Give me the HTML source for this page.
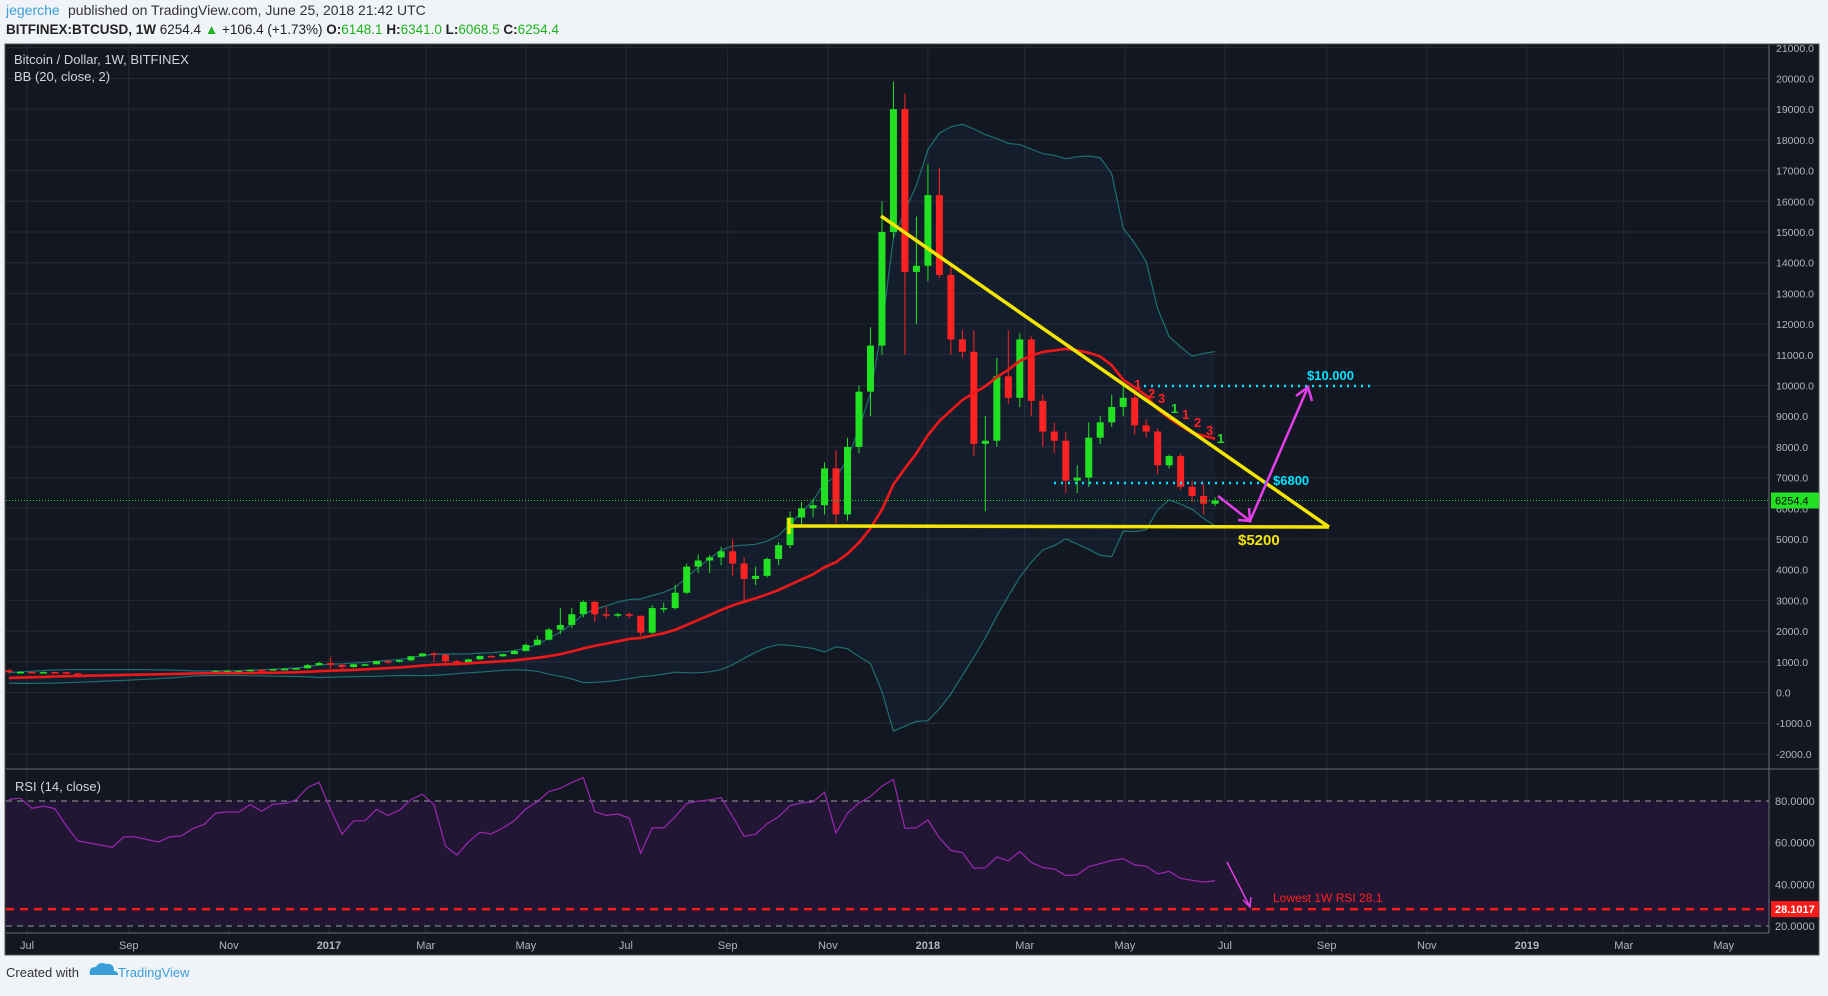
<!DOCTYPE html>
<html><head><meta charset="utf-8">
<style>
html,body{margin:0;padding:0;background:#f0f3f7;width:1828px;height:991px;overflow:hidden;font-family:"Liberation Sans",sans-serif}
#wrap{position:absolute;left:0;top:0;width:1828px;height:991px}
</style></head>
<body>
<div id="wrap">
<svg id="svg" width="1828" height="991" viewBox="0 0 1828 991" xmlns="http://www.w3.org/2000/svg">
  <text x="6" y="15" font-size="14" fill="#3a9fd8">jegerche</text>
  <text x="68" y="15" font-size="14" fill="#333">published on TradingView.com, June 25, 2018 21:42 UTC</text>
  <g font-size="13.5" font-weight="bold">
    <text x="6" y="34" fill="#222">BITFINEX:BTCUSD, 1W <tspan font-weight="normal">6254.4</tspan> <tspan fill="#1fb51f">▲</tspan><tspan font-weight="normal"> +106.4 (+1.73%)</tspan> O:<tspan fill="#1fb51f" font-weight="normal">6148.1</tspan> H:<tspan fill="#1fb51f" font-weight="normal">6341.0</tspan> L:<tspan fill="#1fb51f" font-weight="normal">6068.5</tspan> C:<tspan fill="#1fb51f" font-weight="normal">6254.4</tspan></text>
  </g>
  <rect x="5" y="44" width="1814" height="911" fill="#131722" stroke="#555"/>
  <g id="grid"></g>
  <g id="bb"></g>
  <g id="candles"></g>
  <g id="rsi"></g>
  <g id="axes"></g>
  <text x="14" y="64" font-size="13" fill="#d1d4dc">Bitcoin / Dollar, 1W, BITFINEX</text>
  <text x="14" y="81" font-size="13" fill="#d1d4dc">BB (20, close, 2)</text>
  <text x="15" y="791" font-size="13" fill="#d1d4dc">RSI (14, close)</text>
  <text x="6" y="977" font-size="13" fill="#333">Created with</text>
  <path d="M90 975 q-2 -8 6 -8 q3 -6 10 -3 q8 -1 8 7 q4 0 4 4 z" fill="#3a9fd8"/>
  <text x="118" y="977" font-size="13" fill="#3a9fd8">TradingView</text>
</svg>
</div>
<script>
const priorCloses=[400,410,415,418,420,425,430,440,445,450,455,460,450,455,530,575,720];
const closes=[660,670,650,665,660,625,590,585,580,575,610,610,605,600,615,618,640,655,700,705,705,740,730,765,770,790,890,960,900,830,920,920,1020,1000,1050,1180,1270,1230,1020,960,1080,1190,1180,1250,1350,1550,1720,2050,2200,2550,2950,2550,2500,2550,2500,1950,2750,2750,3250,4100,4300,4400,4600,4200,3700,3800,4350,4800,5700,6000,6100,7300,5800,8000,9800,11300,15000,19000,13700,13900,16200,13600,11500,11100,8100,8200,10300,9600,11500,9500,8500,8200,6900,7000,8300,8800,9300,9600,8700,8500,7400,7700,6700,6400,6148,6254];
const highs=[760,700,690,680,670,660,630,600,595,590,615,625,615,610,620,625,645,660,720,740,720,750,750,770,780,800,935,1000,1130,920,930,930,1030,1050,1060,1190,1290,1330,1250,1060,1100,1210,1210,1260,1400,1600,1850,2100,2750,2760,3000,2980,2800,2600,2600,2500,2850,2920,3500,4200,4500,4480,4750,4980,4400,4100,4400,4900,5900,6200,6300,7500,7900,8300,10000,11900,16000,19900,19500,15500,17200,17100,14000,11800,11800,9000,10900,11800,11700,11600,9700,8800,8500,7400,8800,9000,9700,10000,9900,8900,8600,7750,7780,6900,6800,6350];
const lows=[620,640,640,645,650,620,480,580,570,560,570,600,600,590,595,605,615,630,645,690,690,695,720,720,750,760,780,890,780,750,810,880,910,940,980,1030,1150,1000,930,890,950,1060,1150,1160,1250,1340,1530,1700,1900,2100,2450,2300,2400,2450,2400,1850,1900,2600,2700,3200,3900,3900,4150,3800,2950,3500,3750,4150,4700,5400,5700,5800,5500,5600,7800,9000,11000,14800,11000,12000,13400,13500,11000,10900,7700,5900,8000,9400,9300,9000,8000,7800,6500,6500,6700,8100,8650,9000,8400,8300,7100,7300,6600,6200,5800,6070];
const priceTicks=[21000,20000,19000,18000,17000,16000,15000,14000,13000,12000,11000,10000,9000,8000,7000,6000,5000,4000,3000,2000,1000,0,-1000,-2000];
const rsiTicks=[80,60,40,20];
const timeTicks=[["Jul",2016,6],["Sep",2016,8],["Nov",2016,10],["2017",2017,0],["Mar",2017,2],["May",2017,4],["Jul",2017,6],["Sep",2017,8],["Nov",2017,10],["2018",2018,0],["Mar",2018,2],["May",2018,4],["Jul",2018,6],["Sep",2018,8],["Nov",2018,10],["2019",2019,0],["Mar",2019,2],["May",2019,4]];
const lastPrice=6254.4, lowestRsi=28.1017;

const NS="http://www.w3.org/2000/svg";
const PL=6,PR=1769,PT=45,PB=769,RT=769,RB=933;
const D0=Date.UTC(2016,6,1), DAY=86400000;
function xDate(t){return 27+(t-D0)/DAY*1.641;}
function xI(i){return xDate(Date.UTC(2016,5,20)+i*7*DAY);}
function yP(p){return 692.5-p*0.0307;}
function yR(r){return 801-(r-80)*2.0833;}
function mk(tag,attrs,parent){const e=document.createElementNS(NS,tag);for(const k in attrs)e.setAttribute(k,attrs[k]);parent.appendChild(e);return e;}
const G=id=>document.getElementById(id);
const all=priorCloses.concat(closes);const off=priorCloses.length;

// grid
const grid=G('grid');
priceTicks.forEach(p=>{const l=mk('line',{x1:PL,x2:PR,y1:yP(p),y2:yP(p),stroke:'#262a35','stroke-width':1},grid);

});
rsiTicks.slice(1,3).forEach(r=>{const l=mk('line',{x1:PL,x2:PR,y1:yR(r),y2:yR(r),stroke:'#262a35'},grid);

});
timeTicks.forEach(t=>{const x=xDate(Date.UTC(t[1],t[2],1));const l=mk('line',{x1:x,x2:x,y1:PT,y2:RB,stroke:'#262a35'},grid);

});

// bollinger
const bb=G('bb');const up=[],lo=[],mid=[];
closes.forEach((c,i)=>{const j=i+off;const w=all.slice(Math.max(0,j-19),j+1);const m=w.reduce((a,b)=>a+b,0)/w.length;
const sd=Math.sqrt(w.reduce((a,b)=>a+(b-m)*(b-m),0)/w.length);mid.push([xI(i),yP(m)]);up.push([xI(i),yP(m+2*sd)]);lo.push([xI(i),yP(m-2*sd)]);});
const pts=a=>a.map(p=>p[0].toFixed(1)+','+p[1].toFixed(1)).join(' ');
const fill=mk('polygon',{points:pts(up)+' '+pts(lo.slice().reverse()),fill:'rgba(33,150,243,0.05)'},bb);


const ul=mk('polyline',{points:pts(up),fill:'none',stroke:'#1e6f6f','stroke-width':1.2},bb);


const ll=mk('polyline',{points:pts(lo),fill:'none',stroke:'#1e6f6f','stroke-width':1.2},bb);



// candles
const cg=G('candles');
closes.forEach((c,i)=>{const o=all[i+off-1];const col=c>=o?'#22e022':'#ff2222';const x=xI(i);
const g=mk('g',{},cg);


mk('line',{x1:x,x2:x,y1:yP(highs[i]),y2:yP(lows[i]),stroke:col,'stroke-width':1},g);
const t=Math.min(yP(o),yP(c)),h=Math.max(1.5,Math.abs(yP(o)-yP(c)));
mk('rect',{x:x-3.5,y:t,width:7,height:h,fill:col},g);});
const ml=mk('polyline',{points:pts(mid),fill:'none',stroke:'#f01818','stroke-width':2.6},cg);



// price line
const ax=G('axes');
const pl=mk('line',{x1:PL,x2:PR,y1:yP(lastPrice),y2:yP(lastPrice),stroke:'#22e022','stroke-dasharray':'1,2'},ax);



// RSI
const rg=G('rsi');
const bg=mk('rect',{x:PL,y:yR(80),width:PR-PL,height:yR(20)-yR(80),fill:'#211735'},rg);


[80,20].forEach(r=>{const l=mk('line',{x1:PL,x2:PR,y1:yR(r),y2:yR(r),stroke:'#9598a1','stroke-dasharray':'6,5'},rg);

});
let ag=0,al=0;const rsi=[];
for(let j=1;j<all.length;j++){const d=all[j]-all[j-1];const g=Math.max(d,0),l=Math.max(-d,0);
const n=Math.min(j,14);ag=(ag*(n-1)+g)/n;al=(al*(n-1)+l)/n;
if(j>=off)rsi.push([xI(j-off),yR(al===0?100:100-100/(1+ag/al))]);}
const rl=mk('polyline',{points:pts(rsi),fill:'none',stroke:'#9c27b0','stroke-width':1.2},rg);


const rd=mk('line',{x1:PL,x2:PR,y1:yR(lowestRsi),y2:yR(lowestRsi),stroke:'#ff1a1a','stroke-width':2.5,'stroke-dasharray':'8,6'},rg);



// separators & axis
[[PR,PT,PR,RB],[PL,RT,1819,RT],[PL,RB,PR,RB]].forEach(a=>{const l=mk('line',{x1:a[0],y1:a[1],x2:a[2],y2:a[3],stroke:'#6a6d78'},ax);

});
priceTicks.forEach(p=>{const t=mk('text',{x:1776,y:yP(p)+4,'font-size':10.5,fill:'#b2b5be'},ax);t.textContent=p.toFixed(1);

});
rsiTicks.forEach(r=>{const t=mk('text',{x:1775,y:yR(r)+4,'font-size':11,fill:'#b2b5be'},ax);t.textContent=r.toFixed(4);

});
timeTicks.forEach(tk=>{const x=xDate(Date.UTC(tk[1],tk[2],1));const t=mk('text',{x:x,y:949,'font-size':11,fill:'#b2b5be','text-anchor':'middle','font-weight':/^\d/.test(tk[0])?'bold':'normal'},ax);t.textContent=tk[0];

});
const gb=mk('rect',{x:1771,y:yP(lastPrice)-8,width:48,height:16,fill:'#22e022'},ax);


const gt=mk('text',{x:1775,y:yP(lastPrice)+4,'font-size':11,fill:'#000'},ax);gt.textContent=lastPrice.toFixed(1);


const rb=mk('rect',{x:1771,y:yR(lowestRsi)-8,width:48,height:16,fill:'#ff1a1a'},ax);


const rt=mk('text',{x:1775,y:yR(lowestRsi)+4,'font-size':11,fill:'#fff','font-weight':'bold'},ax);rt.textContent=lowestRsi.toFixed(4);


</script>
<svg width="1828" height="991" style="position:absolute;left:0;top:0;pointer-events:none">
  <g stroke="#f2e600" stroke-width="3.5" fill="none">
    <line x1="881" y1="216" x2="1329" y2="527"/>
    <line x1="789" y1="526" x2="1329" y2="527"/>
    <line x1="789" y1="518" x2="789" y2="534"/>
  </g>
  <text x="1238" y="545" font-size="15" font-weight="bold" fill="#f2e600">$5200</text>
  <line x1="1137" y1="386" x2="1372" y2="386" stroke="#00e5ff" stroke-width="2.5" stroke-dasharray="2,5"/>
  <text x="1307" y="380" font-size="13" font-weight="bold" fill="#00e5ff">$10.000</text>
  <line x1="1054" y1="483" x2="1271" y2="483" stroke="#00e5ff" stroke-width="2.5" stroke-dasharray="2,5"/>
  <text x="1273" y="485" font-size="13" font-weight="bold" fill="#00e5ff">$6800</text>
  <g stroke="#e43ee8" stroke-width="2.5" fill="none">
    <polyline points="1218,496 1250,521 1308,387"/>
    <polyline points="1238,520 1250,521 1249,508"/>
    <polyline points="1296,396 1308,387 1312,401"/>
    <line x1="1227" y1="862" x2="1250" y2="907" stroke-width="1.5"/>
    <polyline points="1243,900 1250,907 1251,897" stroke-width="1.5"/>
  </g>
  <g font-size="13" font-weight="bold">
    <text x="1134" y="389" fill="#ff2020">1</text>
    <text x="1148" y="398" fill="#ff2020">2</text>
    <text x="1158" y="403" fill="#ff2020">3</text>
    <text x="1171" y="413" fill="#22e022">1</text>
    <text x="1182" y="419" fill="#ff2020">1</text>
    <text x="1194" y="427" fill="#ff2020">2</text>
    <text x="1206" y="435" fill="#ff2020">3</text>
    <text x="1217" y="443" fill="#22e022">1</text>
  </g>
  <text x="1273" y="902" font-size="12" fill="#ff2020">Lowest 1W RSI 28.1</text>
</svg>
</body></html>
